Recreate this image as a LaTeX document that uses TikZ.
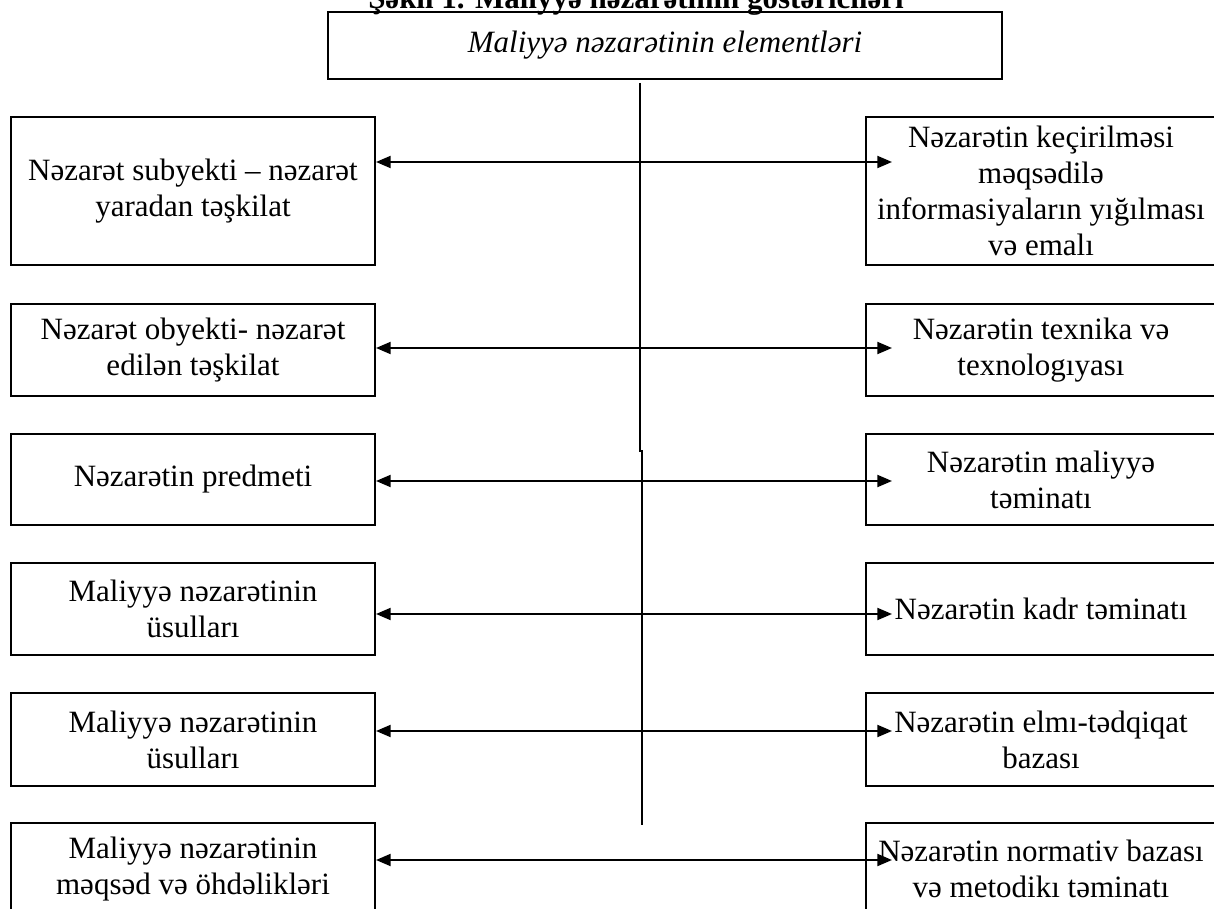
\documentclass[tikz,border=0pt]{standalone}
\usepackage{fontspec}
\setmainfont{Liberation Serif}
\usetikzlibrary{arrows.meta,calc}

\begin{document}
\begin{tikzpicture}[x=0.75pt,y=0.75pt,yscale=-1,xscale=1,
  elembox/.style={draw,line width=1.5pt,inner sep=0pt,align=center,font=\fontsize{23.25pt}{27pt}\selectfont},
  leftbox/.style={elembox,minimum width=273pt},
  rightbox/.style={elembox,minimum width=262.5pt},
  biarrow/.style={line width=1.5pt,{Triangle[length=11pt,width=9pt]}-{Triangle[length=11pt,width=9pt]}}]
\useasboundingbox (0,0) rectangle (1214,909);
\clip (0,0) rectangle (1214,909);

% Text Node
\draw (636,9) node [anchor=base,font=\bfseries\fontsize{23.25pt}{27pt}\selectfont] (caption) {Şəkil 1. Maliyyə nəzarətinin göstəriciləri};

%Shape: Rectangle
\draw (665,45.5) node [elembox,minimum width=505.5pt,minimum height=50.25pt,font=\itshape\fontsize{23.25pt}{27pt}\selectfont] (elem) {Maliyyə nəzarətinin elementləri};

%Shape: Rectangle (left column)
\draw (193,191) node [leftbox,minimum height=111pt] (subj) {Nəzarət subyekti -- nəzarət\\yaradan təşkilat};
\draw (193,350) node [leftbox,minimum height=69pt] (obj) {Nəzarət obyekti- nəzarət\\edilən təşkilat};
\draw (193,479.5) node [leftbox,minimum height=68.25pt] (subject) {Nəzarətin predmeti};
\draw (193,609) node [leftbox,minimum height=69pt] (methA) {Maliyyə nəzarətinin\\üsulları};
\draw (193,739.5) node [leftbox,minimum height=69.75pt] (methB) {Maliyyə nəzarətinin\\üsulları};
\draw (193,869) node [leftbox,minimum height=69pt] (goals) {Maliyyə nəzarətinin\\məqsəd və öhdəlikləri};

%Shape: Rectangle (right column)
\draw (1041,191) node [rightbox,minimum height=111pt] (info) {Nəzarətin keçirilməsi\\məqsədilə\\informasiyaların yığılması\\və emalı};
\draw (1041,350) node [rightbox,minimum height=69pt] (tech) {Nəzarətin texnika və\\texnologıyası};
\draw (1041,479.5) node [rightbox,minimum height=68.25pt] (fin) {Nəzarətin maliyyə\\təminatı};
\draw (1041,609) node [rightbox,minimum height=69pt] (staff) {Nəzarətin kadr təminatı};
\draw (1041,739.5) node [rightbox,minimum height=69.75pt] (research) {Nəzarətin elmı-tədqiqat\\bazası};
\draw (1041,869) node [rightbox,minimum height=69pt] (norm) {Nəzarətin normativ bazası\\və metodikı təminatı};

%Straight Lines (spine)
\coordinate (jog) at (640,451);
\coordinate (spineend) at (642,825);
\draw [line width=1.5pt] (elem.south -| jog) ++(0,3) -- (jog) -- ++(2,0) -- (spineend);

%Straight Lines (arrows)
\draw [biarrow] (subj.east |- 0,162) -- ($(info.west |- 0,162)+(27,0)$);
\draw [biarrow] (obj.east |- 0,348) -- ($(tech.west |- 0,348)+(27,0)$);
\draw [biarrow] (subject.east |- 0,481) -- ($(fin.west |- 0,481)+(27,0)$);
\draw [biarrow] (methA.east |- 0,614) -- ($(staff.west |- 0,614)+(27,0)$);
\draw [biarrow] (methB.east |- 0,731) -- ($(research.west |- 0,731)+(27,0)$);
\draw [biarrow] (goals.east |- 0,860) -- ($(norm.west |- 0,860)+(27,0)$);

\end{tikzpicture}
\end{document}
